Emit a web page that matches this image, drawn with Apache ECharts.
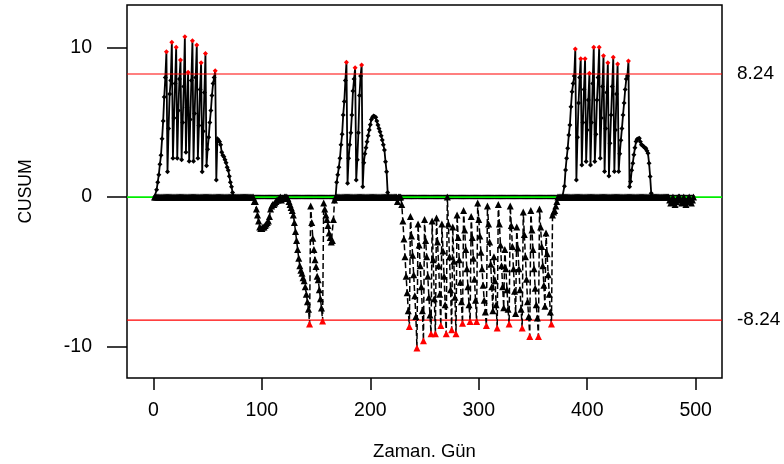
<!DOCTYPE html>
<html>
<head>
<meta charset="utf-8">
<script src="https://cdn.jsdelivr.net/npm/echarts@6/dist/echarts.min.js"></script>
<style>html,body{margin:0;padding:0;background:#fff;overflow:hidden}#c{width:784px;height:464px}</style>
</head>
<body>
<div id="c"></div>
<script>
// Upper CUSUM, day 1..498 (10 values per row)
const upperCusum = [
0,0,0.5,1.0,1.5,2.2,2.8,3.9,5.1,6.7,
8.0,9.73,1.7,4.6,6.9,7.8,10.36,2.6,5.3,7.6,
10.03,2.6,5.8,7.9,9.18,2.5,5.0,7.4,10.74,3.0,
6.0,8.35,2.4,5.2,7.8,10.47,2.4,5.6,8.0,10.18,
2.6,4.8,7.2,9.0,1.7,4.4,7.0,9.62,2.1,3.2,
4.0,5.0,5.8,6.8,7.6,8.0,8.46,1.15,3.9,3.8,
3.7,3.5,3.0,2.8,2.7,2.5,2.3,2.0,1.8,1.4,
1.0,0.7,0.3,0,0,0,0,0,0,0,
0,0,0,0,0,0,0,0,0,0,
0,0,0,0,0,0,0,0,0,0,
0,0,0,0,0,0,0,0,0,0,
0,0,0,0,0,0,0,0,0,0,
0,0,0,0,0,0,0,0,0,0,
0,0,0,0,0,0,0,0,0,0,
0,0,0,0,0,0,0,0,0,0,
0,0,0,0,0,0,0,0,0,0,
0,0,0,0,0,0,0,0,1.0,1.5,
2.0,2.6,3.5,4.2,5.5,6.4,7.8,9.02,0.93,2.6,
3.5,4.3,5.5,7.1,7.9,8.66,1.15,2.5,4.3,6.8,
8.1,8.84,0.7,2.3,2.9,3.3,3.7,4.1,4.5,4.85,
5.2,5.35,5.43,5.4,5.34,5.1,4.83,4.6,4.38,4.1,
3.83,3.5,3.16,2.37,1.7,0.3,0,0,0,0,
0,0,0,0,0,0,0,0,0,0,
0,0,0,0,0,0,0,0,0,0,
0,0,0,0,0,0,0,0,0,0,
0,0,0,0,0,0,0,0,0,0,
0,0,0,0,0,0,0,0,0,0,
0,0,0,0,0,0,0,0,0,0,
0,0,0,0,0,0,0,0,0,0,
0,0,0,0,0,0,0,0,0,0,
0,0,0,0,0,0,0,0,0,0,
0,0,0,0,0,0,0,0,0,0,
0,0,0,0,0,0,0,0,0,0,
0,0,0,0,0,0,0,0,0,0,
0,0,0,0,0,0,0,0,0,0,
0,0,0,0,0,0,0,0,0,0,
0,0,0,0,0,0,0,0,0,0,
0,0,0,0,0,0,0,0,0.73,1.82,
2.6,3.27,4.16,4.83,6.05,7.06,7.6,8.1,9.91,1.15,
4.0,6.3,8.0,9.27,2.15,5.0,7.2,9.27,2.38,4.5,
6.5,8.29,2.15,5.0,7.6,10.03,2.38,4.2,6.5,8.0,
10.03,2.6,5.3,7.4,9.47,1.71,4.6,7.0,9.0,1.42,
3.6,5.5,7.4,9.36,1.71,4.5,6.9,8.91,1.71,2.9,
3.8,4.6,5.5,6.3,7.2,7.9,8.1,9.11,0.7,1.04,
1.8,2.27,2.83,3.3,3.72,3.87,3.9,3.94,3.7,3.5,
3.45,3.38,3.3,3.27,3.1,2.93,2.27,1.38,0.26,0,
0,0,0,0,0,0,0,0,0,0,
0,0,0,0,0,0,0,0,0,0,
0,0,0,0,0,0,0,0,0,0,
0,0,0,0,0,0,0,0
];
// Lower CUSUM, day 1..498
const lowerCusum = [
0,0,0,0,0,0,0,0,0,0,
0,0,0,0,0,0,0,0,0,0,
0,0,0,0,0,0,0,0,0,0,
0,0,0,0,0,0,0,0,0,0,
0,0,0,0,0,0,0,0,0,0,
0,0,0,0,0,0,0,0,0,0,
0,0,0,0,0,0,0,0,0,0,
0,0,0,0,0,0,0,0,0,0,
0,0,0,0,0,0,0,0,0,0,
0,0,-0.3,-0.3,-0.8,-1.2,-1.6,-2.0,-2.1,-2.1,
-2.0,-2.0,-1.9,-1.8,-1.7,-1.6,-1.3,-0.8,-0.6,-0.5,
-0.5,-0.4,-0.3,-0.2,-0.2,-0.1,0,-0.2,-0.1,-0.1,
0,0,0,-0.1,-0.3,-0.5,-0.7,-0.9,-1.2,-1.7,
-2.3,-2.9,-3.5,-4.1,-4.6,-4.9,-5.1,-5.4,-5.6,-6.0,
-6.5,-7.0,-7.5,-8.5,-0.6,-1.7,-2.75,-3.5,-4.2,-4.65,
-5.3,-5.54,-6.2,-6.8,-7.43,-8.3,-0.4,-0.8,-1.2,-1.5,
-1.9,-2.4,-2.7,-3.0,-2.9,-1.5,-0.2,0,0,0,
0,0,0,0,0,0,0,0,0,0,
0,0,0,0,0,0,0,0,0,0,
0,0,0,0,0,0,0,0,0,0,
0,0,0,0,0,0,0,0,0,0,
0,0,0,0,0,0,0,0,0,0,
0,0,0,0,-0.3,0,0,0,-0.5,-1.6,
-2.8,-4.0,-5.3,-6.4,-7.6,-8.66,-1.3,-2.6,-3.9,-5.2,
-6.6,-8.0,-10.1,-1.8,-3.2,-4.6,-6.0,-7.6,-9.62,-1.5,
-2.9,-4.0,-5.3,-6.7,-7.9,-9.15,-1.6,-4.2,-6.8,-9.15,
-1.4,-3.0,-4.6,-6.5,-8.6,-1.8,-3.6,-5.3,-7.2,-9.15,
0,-1.8,-4.0,-6.2,-8.88,-2.0,-4.3,-6.7,-9.15,-1.2,
-2.7,-4.2,-5.7,-7.0,-8.44,-0.9,-2.2,-3.5,-4.8,-6.0,
-7.2,-8.33,-1.3,-2.7,-4.1,-5.5,-6.9,-8.33,-0.4,-1.5,
-2.6,-3.7,-4.8,-5.9,-6.9,-7.7,-8.6,-0.6,-1.8,-3.0,
-4.5,-6.0,-7.6,-4.0,-5.6,-7.2,-8.77,-0.5,-1.8,-3.2,
-4.6,-6.0,-7.4,-3.5,-4.8,-6.2,-7.5,-8.5,-0.6,-1.9,
-3.3,-4.8,-6.3,-7.8,-2.0,-3.4,-4.8,-6.2,-7.5,-8.77,
-1.0,-2.5,-4.0,-5.5,-7.0,-8.0,-9.33,-0.9,-2.2,-3.5,
-4.8,-6.1,-7.2,-8.1,-9.33,-0.8,-2.0,-3.3,-4.6,-5.9,
-7.3,-2.4,-3.8,-5.2,-6.5,-7.7,-8.5,-1.2,-1.0,-0.9,
-0.6,-0.3,0,0,0,0,0,0,0,0,
0,0,0,0,0,0,0,0,0,0,
0,0,0,0,0,0,0,0,0,0,
0,0,0,0,0,0,0,0,0,0,
0,0,0,0,0,0,0,0,0,0,
0,0,0,0,0,0,0,0,0,0,
0,0,0,0,0,0,0,0,0,0,
0,0,0,0,0,0,0,0,0,0,
0,0,0,0,0,0,0,0,0,0,
0,0,0,0,0,0,0,0,0,0,
0,0,0,0,0,-0.2,-0.4,-0.2,0,-0.3,
-0.5,-0.3,-0.1,0,0,-0.2,-0.4,-0.2,0,-0.3,
-0.5,-0.3,-0.1,0,-0.2,-0.4,-0.2,0
];
const xTicks = [0, 100, 200, 300, 400, 500];
const yTicks = [-10, 0, 10];
const upperLimit = 8.24;
const lowerLimit = -8.24;
const centerLine = 0;

const X_MIN = -24.34, X_MAX = 524.25, Y_MIN = -12.11, Y_MAX = 12.86;
const FONT = 'Liberation Sans';
const chart = echarts.init(document.getElementById('c'), null, {renderer: 'canvas', width: 784, height: 464});
const upperData = upperCusum.map((v, i) => [i + 1, v]);
const lowerData = lowerCusum.map((v, i) => [i + 1, v]);
const hline = (y, color, w, z) => ({
  type: 'line', data: [[X_MIN, y], [X_MAX, y]], z: z, symbol: 'none', silent: true,
  lineStyle: {color: color, width: w, type: 'solid', opacity: 1}, itemStyle: {color: color}
});

chart.setOption({
  animation: false,
  backgroundColor: '#fff',
  grid: {left: 127, right: 62, top: 5, bottom: 86, outerBoundsMode: 'none', containLabel: false,
    show: true, borderColor: '#000', borderWidth: 1.5, backgroundColor: 'transparent'},
  xAxis: {
    type: 'value', min: X_MIN, max: X_MAX,
    name: 'Zaman. Gün', nameLocation: 'middle', nameGap: 64,
    nameTextStyle: {fontSize: 18.5, fontFamily: FONT, color: '#000'},
    axisLine: {show: false, onZero: false},
    splitLine: {show: false},
    axisTick: {show: true, length: 12, customValues: xTicks, lineStyle: {color: '#000', width: 1.5}},
    axisLabel: {customValues: xTicks, margin: 23, fontSize: 19.5, fontFamily: FONT, color: '#000'}
  },
  yAxis: [{
    type: 'value', min: Y_MIN, max: Y_MAX,
    name: 'CUSUM', nameLocation: 'middle', nameGap: 92,
    nameTextStyle: {fontSize: 17.5, fontFamily: FONT, color: '#000'},
    axisLine: {show: false, onZero: false},
    splitLine: {show: false},
    axisTick: {show: true, length: 20, customValues: yTicks, lineStyle: {color: '#000', width: 1.5}},
    axisLabel: {customValues: yTicks, margin: 35, fontSize: 19.5, fontFamily: FONT, color: '#000'}
  }, {
    type: 'value', position: 'right', min: Y_MIN, max: Y_MAX,
    axisLine: {show: false, onZero: false}, splitLine: {show: false}, axisTick: {show: false},
    axisLabel: {customValues: [lowerLimit, upperLimit], margin: 15, fontSize: 19, fontFamily: FONT, color: '#000',
      formatter: v => v.toFixed(2)}
  }],
  series: [{
    type: 'line', data: upperData, z: 2,
    symbol: 'diamond', symbolSize: 5, showAllSymbol: true,
    lineStyle: {color: '#000', width: 1.8},
    itemStyle: {color: p => p.value[1] > upperLimit ? '#ff0000' : '#000'},
    silent: true
  },
  hline(upperLimit, '#ff0000', 1.2, 3),
  hline(lowerLimit, '#ff0000', 1.2, 3),
  hline(centerLine, '#00ee00', 1.6, 3),
  {
    type: 'line', data: lowerData, z: 4,
    symbol: 'triangle', symbolSize: 7, showAllSymbol: true,
    lineStyle: {color: '#000', width: 1.5, type: [6, 3]},
    itemStyle: {color: p => p.value[1] < lowerLimit ? '#ff0000' : '#000'},
    silent: true
  }]
});
</script>
</body>
</html>
